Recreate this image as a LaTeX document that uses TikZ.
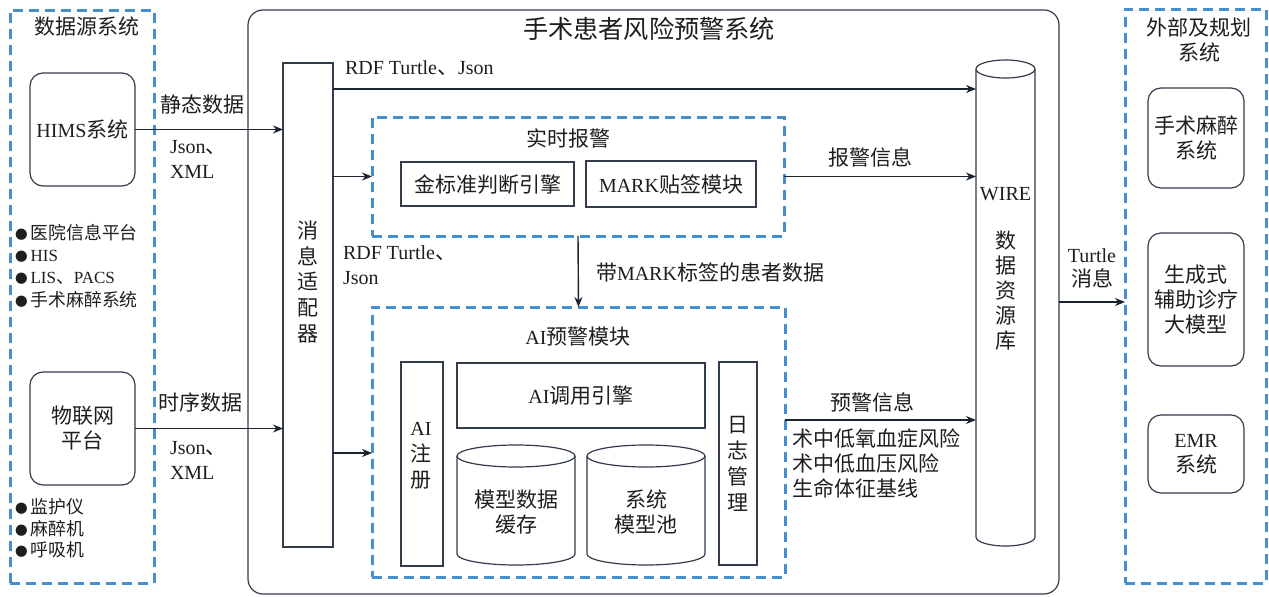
\documentclass[tikz,border=0pt]{standalone}
\usepackage{fontspec}
\setmainfont{Liberation Serif}
\newfontfamily\cjk[Scale=1.05]{Noto Sans CJK SC}
\usetikzlibrary{arrows.meta,calc}

\definecolor{dashblue}{RGB}{72,141,208}
\definecolor{linecol}{RGB}{50,60,75}
\definecolor{arrcol}{RGB}{28,36,48}
\definecolor{txt}{RGB}{30,30,30}

\newcommand\zh[1]{{\cjk #1}}
\newcommand\bul{{\cjk\fontsize{12}{12}\selectfont ●}\hspace{3pt}}

\begin{document}
\begin{tikzpicture}[x=1pt,y=-1pt,
  every node/.style={font=\fontsize{20}{25}\selectfont, text=txt, inner sep=0pt, outer sep=0pt},
  zh/.style={font=\fontsize{20}{25}\selectfont\cjk},
  small/.style={font=\fontsize{17}{22}\selectfont\cjk},
  panel/.style={draw=dashblue, line width=3pt, dash pattern=on 10pt off 6pt, rectangle},
  blk/.style={draw=linecol, line width=1.2pt, rectangle},
  rblk/.style={blk, rounded corners=13pt},
  cyl/.style={draw=linecol, line width=1.2pt, fill=white},
  arr/.style={draw=arrcol, line width=1.4pt, -{Stealth[length=10pt,width=8pt]}},
]
\useasboundingbox (0,0) rectangle (1269,597);

% ---------- data sources ----------
\node[panel, minimum width=144pt, minimum height=573pt] (src) at (82,296.5) {};
\node[zh] at (87,27) {数据源系统};
\node[rblk, zh, minimum width=105pt, minimum height=113pt] (hims) at (82.5,129.5) {\rmfamily HIMS\zh{系统}};
\node[small, anchor=west] at (15,233) {\bul 医院信息平台};
\node[small, anchor=west] at (15,256) {\bul \rmfamily HIS};
\node[small, anchor=west] at (15,278) {\bul \rmfamily LIS\zh{、}PACS};
\node[small, anchor=west] at (15,300) {\bul 手术麻醉系统};
\node[rblk, zh, align=center, minimum width=105pt, minimum height=113pt] (iot) at (82.5,428.5) {物联网\\平台};
\node[small, anchor=west] at (15,507) {\bul 监护仪};
\node[small, anchor=west] at (15,529) {\bul 麻醉机};
\node[small, anchor=west] at (15,550) {\bul 呼吸机};

% ---------- warning system ----------
\node[blk, rounded corners=15pt, minimum width=811pt, minimum height=584pt] (main) at (653.5,302) {};
\node[font=\fontsize{24}{28}\selectfont\cjk] at (649,29) {手术患者风险预警系统};

\node[blk, minimum width=50pt, minimum height=484pt] (adapter) at (308,305) {};
\node[zh, align=center, font=\fontsize{20}{25.7}\selectfont\cjk] at (308,282) {消\\息\\适\\配\\器};

% real-time alarm
\node[panel, minimum width=412pt, minimum height=119pt] (rt) at (578,176.5) {};
\node[zh] at (568,138) {实时报警};
\node[blk, zh, minimum width=173pt, minimum height=44pt] (gold) at (487.5,184) {金标准判断引擎};
\node[blk, minimum width=170pt, minimum height=46pt] (mark) at (671,184) {MARK\zh{贴签模块}};

% AI warning module
\node[panel, minimum width=413pt, minimum height=270pt] (ai) at (578.5,442) {};
\node at (578,337) {AI\zh{预警模块}};
\node[blk, minimum width=42pt, minimum height=204pt] (aireg) at (422,464) {};
\node[align=center, font=\fontsize{20}{26}\selectfont] at (421,456) {AI\\\zh{注}\\\zh{册}};
\node[blk, minimum width=248pt, minimum height=65pt] (aicall) at (581,395.5) {AI\zh{调用引擎}};
\node[minimum width=118pt, minimum height=120pt] (cache) at (516,505) {};
\node[minimum width=118pt, minimum height=120pt] (pool) at (646,505) {};
\foreach \c in {cache,pool}{
  \draw[cyl] ([yshift=-11pt]\c.north west) -- ([yshift=11pt]\c.south west)
    arc[start angle=180, end angle=0, x radius=59, y radius=11]
    -- ([yshift=-11pt]\c.north east);
  \draw[cyl] ([yshift=-11pt]\c.north) ellipse[x radius=59, y radius=11];
}
\node[zh, align=center] at (516,512) {模型数据\\缓存};
\node[zh, align=center] at (646,512) {系统\\模型池};
\node[blk, minimum width=38pt, minimum height=203pt] (log) at (738,463.5) {};
\node[zh, align=center, font=\fontsize{20}{26}\selectfont\cjk] at (738,464) {日\\志\\管\\理};

% WIRE data resource store
\node[minimum width=59pt, minimum height=486pt] (wire) at (1005.5,303) {};
\draw[cyl] ([yshift=-9pt]wire.north west) -- ([yshift=9pt]wire.south west)
  arc[start angle=180, end angle=0, x radius=29.5, y radius=9]
  -- ([yshift=-9pt]wire.north east);
\draw[cyl] ([yshift=-9pt]wire.north) ellipse[x radius=29.5, y radius=9];
\node at (1005.5,194) {WIRE};
\node[zh, align=center] at (1005.5,291) {数\\据\\资\\源\\库};

% ---------- external systems ----------
\node[panel, minimum width=141pt, minimum height=574pt] (ext) at (1195.5,296) {};
\node[zh, align=center] at (1199,40) {外部及规划\\系统};
\node[rblk, zh, align=center, minimum width=96pt, minimum height=100pt] (anes) at (1196,138) {手术麻醉\\系统};
\node[rblk, zh, align=center, minimum width=96pt, minimum height=133pt] (gen) at (1196,299.5) {生成式\\辅助诊疗\\大模型};
\node[rblk, align=center, minimum width=96pt, minimum height=78pt] (emr) at (1196,454) {EMR\\\zh{系统}};

% ---------- connectors ----------
\draw[arr] (hims.east) -- (hims.east -| adapter.west);
\draw[arr] (iot.east) -- (iot.east -| adapter.west);
\coordinate (r1) at (0,89);
\draw[arr] (adapter.east |- r1) -- (wire.west |- r1);
\draw[arr] (adapter.east |- rt.west) -- (rt.west);
\draw[arr] (rt.east) -- (wire.west |- rt.east);
\draw[arr] (rt.south) -- (ai.north);
\coordinate (r2) at (0,453);
\draw[arr] (adapter.east |- r2) -- (ai.west |- r2);
\coordinate (r3) at (0,420);
\draw[arr] (ai.east |- r3) -- (wire.west |- r3);
\draw[arr] (main.east) -- (main.east -| ext.west);

% ---------- connector labels ----------
\node[zh] at (202,105) {静态数据};
\node[anchor=west, align=left] at (170,159.5) {Json\zh{、}\\XML};
\node[zh] at (200,402) {时序数据};
\node[anchor=west, align=left] at (170,460.5) {Json\zh{、}\\XML};
\node[anchor=west] at (345,68) {RDF Turtle\zh{、}Json};
\node[anchor=west, align=left] at (343,265.5) {RDF Turtle\zh{、}\\Json};
\node[anchor=west] at (596,272) {\zh{带}MARK\zh{标签的患者数据}};
\node[zh] at (870,157) {报警信息};
\node[zh] at (872,402) {预警信息};
\node[zh, anchor=west, align=left] at (792,463) {术中低氧血症风险\\术中低血压风险\\生命体征基线};
\node[align=center, font=\fontsize{20}{24}\selectfont] at (1092,268) {Turtle\\\zh{消息}};
\end{tikzpicture}
\end{document}
